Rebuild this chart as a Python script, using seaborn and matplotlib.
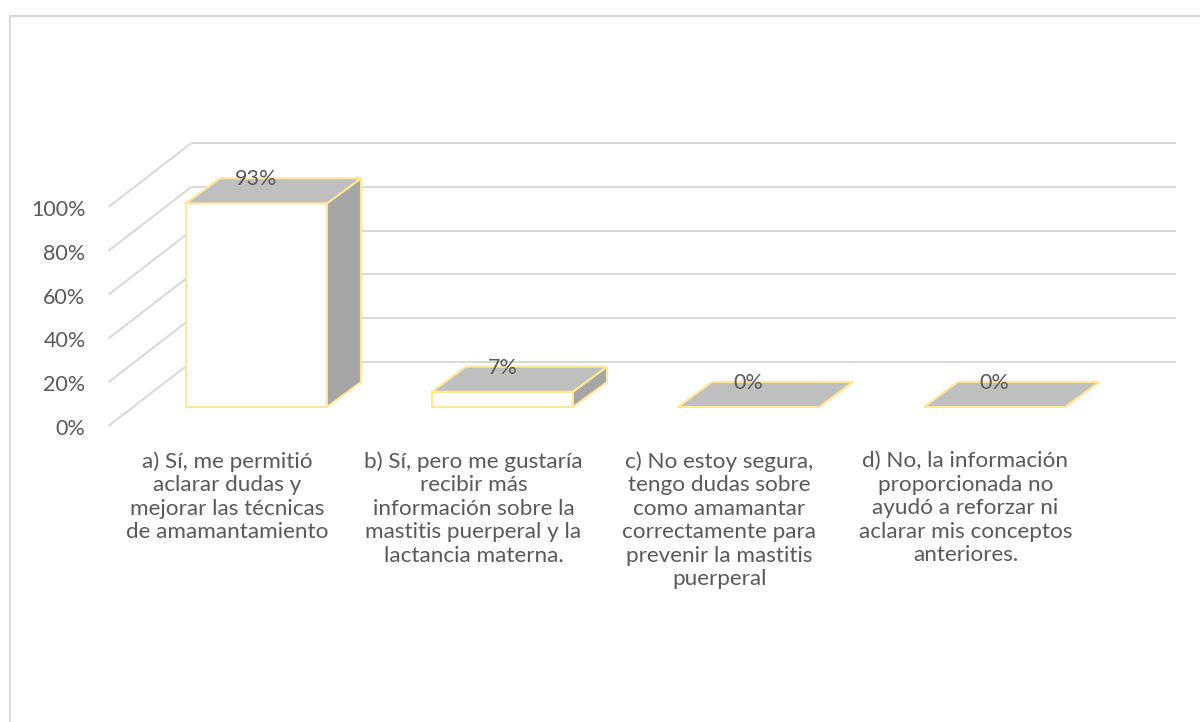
import matplotlib
matplotlib.use("Agg")
import matplotlib.pyplot as plt
from matplotlib.patches import Polygon
from matplotlib.lines import Line2D
from matplotlib.transforms import offset_copy, blended_transform_factory, IdentityTransform
import seaborn as sns

# ---- data ----
categories = [
    "a) Sí, me permitió\naclarar dudas y\nmejorar las técnicas\nde amamantamiento",
    "b) Sí, pero me gustaría\nrecibir más\ninformación sobre la\nmastitis puerperal y la\nlactancia materna.",
    "c) No estoy segura,\ntengo dudas sobre\ncomo amamantar\ncorrectamente para\nprevenir la mastitis\npuerperal",
    "d) No, la información\nproporcionada no\nayudó a reforzar ni\naclarar mis conceptos\nanteriores.",
]
values = [0.93, 0.07, 0.0, 0.0]
y_ticks = [0.0, 0.2, 0.4, 0.6, 0.8, 1.0]
y_tick_labels = ["0%", "20%", "40%", "60%", "80%", "100%"]

# ---- style ----
sns.set_theme(style="white")
plt.rcParams["font.family"] = ["Lato", "DejaVu Sans"]
TEXT = "#595959"
GRID = "#D9D9D9"
EDGE = "#FFE699"
TOP = "#BFBFBF"
SIDE = "#A5A5A5"
FS = 15.5
FS_CAT = 16.2

W, H, DPI = 1200, 722, 100
fig = plt.figure(figsize=(W / DPI, H / DPI), dpi=DPI)

# axes = plane of the bar fronts; depth is faked with pixel offsets
ax = fig.add_axes([133.5 / W, 315 / H, 984 / W, 219 / H])
sns.barplot(x=categories, y=values, color="white", saturation=1, width=0.573,
            edgecolor=EDGE, linewidth=1.5, errorbar=None, ax=ax, zorder=3)
ax.set_xlim(-0.5, 3.5)
ax.set_ylim(0, 1)
ax.set_axis_off()
for p in ax.patches:
    p.set_clip_on(False)

# depth offsets (pixels): bar depth, bar plane -> back wall, bar plane -> front plane
BAR_DX, BAR_DY = 34, 25
BACK_DX, BACK_DY = 58, 45
FRONT_DX, FRONT_DY = -25, -19

def to_px(x, y, dx=0, dy=0):
    px, py = ax.transData.transform((x, y))
    return (px + dx, py + dy)

# back wall and left wall gridlines
for t in y_ticks:
    a = to_px(-0.5, t, BACK_DX, BACK_DY)
    b = to_px(3.5, t, BACK_DX, BACK_DY)
    f = to_px(-0.5, t, FRONT_DX, FRONT_DY)
    for p0, p1 in ((a, b), (f, a)):
        ax.add_line(Line2D([p0[0], p1[0]], [p0[1], p1[1]], color=GRID, lw=1.5,
                           transform=IdentityTransform(), clip_on=False, zorder=0.5,
                           solid_capstyle="butt"))

# top and side faces built from the bar patches
for p in ax.patches[:len(values)]:
    x0, w, h = p.get_x(), p.get_width(), p.get_height()
    top = [to_px(x0, h), to_px(x0 + w, h),
           to_px(x0 + w, h, BAR_DX, BAR_DY), to_px(x0, h, BAR_DX, BAR_DY)]
    side = [to_px(x0 + w, 0), to_px(x0 + w, 0, BAR_DX, BAR_DY),
            to_px(x0 + w, h, BAR_DX, BAR_DY), to_px(x0 + w, h)]
    for verts, fc in ((side, SIDE), (top, TOP)):
        ax.add_patch(Polygon(verts, closed=True, facecolor=fc, edgecolor=EDGE,
                             linewidth=1.5, transform=IdentityTransform(),
                             clip_on=False, zorder=3, joinstyle="miter"))

# value labels over the bar tops
for i, v in enumerate(values):
    ax.text(i, v, f"{v:.0%}", ha="center", va="center", fontsize=FS, color=TEXT,
            transform=offset_copy(ax.transData, fig, x=0, y=BAR_DY - 1, units="dots"),
            zorder=5, clip_on=False)

# y tick labels on the front plane
ytf = offset_copy(blended_transform_factory(ax.transAxes, ax.transData), fig,
                  x=-48, y=FRONT_DY - 3, units="dots")
for t, lab in zip(y_ticks, y_tick_labels):
    ax.text(0, t, lab, ha="right", va="center", fontsize=FS, color=TEXT,
            transform=ytf, clip_on=False)

# category labels under the front plane
xtf = offset_copy(ax.transData, fig, x=-29, y=-44, units="dots")
for i, lab in enumerate(categories):
    ax.text(i, 0, lab, ha="center", va="top", multialignment="center",
            fontsize=FS_CAT, color=TEXT, linespacing=1.22, transform=xtf, clip_on=False)

# chart area border (top and left edges)
fig.add_artist(Line2D([10 / W, 10 / W, 1.0], [0.0, 1 - 16 / H, 1 - 16 / H],
                      color=GRID, lw=1.5, transform=fig.transFigure))

fig.savefig("out.png", dpi=DPI, facecolor="white")
